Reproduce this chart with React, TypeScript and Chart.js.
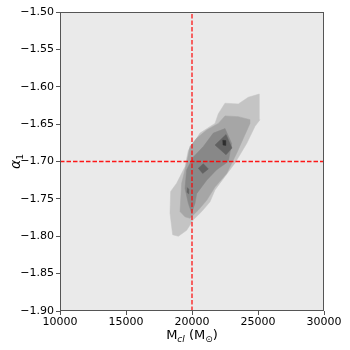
import React, { useEffect, useRef } from "react";
import { Chart, registerables } from "chart.js";

Chart.register(...registerables);

// Axis ranges / ticks
const xRange = [10000, 30000];
const yRange = [-1.9, -1.5];
const xStep = 5000;
const yStep = 0.05;

// Reference lines
const refX = 20000;
const refY = -1.7;

// Contour levels (outer -> inner), polygons in data coordinates [M_cl, alpha_1]
const level1: [number, number][] = [
  [25098, -1.6097], [24265, -1.614], [23508, -1.623], [22500, -1.622], [21996, -1.636],
  [21742, -1.649], [20606, -1.662], [20101, -1.676], [19722, -1.685], [19470, -1.707],
  [18838, -1.729], [18384, -1.74], [18333, -1.769], [18535, -1.798], [18965, -1.8],
  [19596, -1.792], [20101, -1.778], [20732, -1.767], [21364, -1.754], [21742, -1.738],
  [22500, -1.72], [23258, -1.702], [24141, -1.676], [24773, -1.653], [25151, -1.644],
];
const level2: [number, number][] = [
  [24394, -1.644], [23508, -1.64], [22500, -1.639], [21996, -1.649], [21111, -1.658],
  [20353, -1.669], [19848, -1.68], [19596, -1.702], [19217, -1.729], [19091, -1.767],
  [19470, -1.774], [19848, -1.776], [20480, -1.765], [21111, -1.752], [21742, -1.734],
  [22626, -1.716], [23384, -1.689], [24394, -1.649],
];
const level3: [number, number][] = [
  [22500, -1.656], [21616, -1.662], [20859, -1.68], [20101, -1.694], [19596, -1.711],
  [19470, -1.736], [19722, -1.756], [19975, -1.769], [20227, -1.756], [20353, -1.743],
  [21111, -1.725], [21869, -1.711], [22753, -1.7], [23005, -1.676],
];
const level4a: [number, number][] = [
  [22576, -1.664], [21742, -1.678], [22576, -1.691], [23030, -1.682],
];
const level4b: [number, number][] = [
  [20480, -1.709], [20859, -1.703], [21237, -1.71], [20808, -1.716],
];
const level4c: [number, number][] = [
  [19650, -1.735], [19620, -1.741], [19730, -1.743], [19760, -1.737],
];
const level5: [number, number][] = [
  [22330, -1.6715], [22350, -1.678], [22560, -1.6785], [22560, -1.672],
];

const levelColors = ["#c4c4c4", "#a6a6a6", "#888888", "#626262", "#2e2e2e"];

const toPts = (poly: [number, number][]) => {
  const pts = poly.map(([x, y]) => ({ x, y }));
  pts.push({ ...pts[0] });
  return pts;
};

export default function App() {
  const ref = useRef<HTMLCanvasElement | null>(null);

  useEffect(() => {
    if (!ref.current) return;

    const polyDs = (poly: [number, number][], color: string, order: number) => ({
      data: toPts(poly),
      showLine: true,
      fill: "shape",
      backgroundColor: color,
      borderColor: color,
      borderWidth: 0.5,
      pointRadius: 0,
      tension: 0,
      order,
    });

    const bgPlugin = {
      id: "bg",
      beforeDraw(chart: any) {
        const { ctx, chartArea: a } = chart;
        ctx.save();
        ctx.fillStyle = "#eaeaea";
        ctx.fillRect(a.left, a.top, a.right - a.left, a.bottom - a.top);
        ctx.restore();
      },
      afterDraw(chart: any) {
        const { ctx, chartArea: a } = chart;
        ctx.save();
        ctx.strokeStyle = "#555555";
        ctx.lineWidth = 1;
        ctx.strokeRect(Math.round(a.left) + 0.5, Math.round(a.top) + 0.5,
          Math.round(a.right - a.left) - 1, Math.round(a.bottom - a.top) - 1);

        // x title: M_cl (M_sun)
        const big = "13px 'DejaVu Sans'";
        const small = "9px 'DejaVu Sans'";
        const smallIt = "italic 9px 'DejaVu Sans'";
        const parts = [
          { t: "M", f: big, dy: 0 },
          { t: "cl", f: smallIt, dy: 3 },
          { t: " (M", f: big, dy: 0 },
          { t: "⊙", f: small, dy: 3 },
          { t: ")", f: big, dy: 0 },
        ];
        let total = 0;
        for (const p of parts) { ctx.font = p.f; total += ctx.measureText(p.t).width; }
        let x = (a.left + a.right) / 2 - total / 2;
        const by = 339;
        ctx.fillStyle = "#000";
        ctx.textBaseline = "alphabetic";
        ctx.textAlign = "left";
        for (const p of parts) {
          ctx.font = p.f;
          ctx.fillText(p.t, x, by + p.dy);
          x += ctx.measureText(p.t).width;
        }

        // y title: alpha_1
        ctx.translate(20, (a.top + a.bottom) / 2);
        ctx.rotate(-Math.PI / 2);
        ctx.font = "italic 14px 'DejaVu Sans'";
        const wA = ctx.measureText("α").width;
        ctx.font = "9px 'DejaVu Sans'";
        const w1 = ctx.measureText("1").width;
        const sx = -(wA + w1) / 2;
        ctx.font = "italic 14px 'DejaVu Sans'";
        ctx.fillText("α", sx, 0);
        ctx.font = "9px 'DejaVu Sans'";
        ctx.fillText("1", sx + wA, 3);
        ctx.restore();
      },
    };

    const chart = new Chart(ref.current, {
      type: "scatter",
      data: {
        datasets: [
          {
            data: [{ x: refX, y: yRange[0] }, { x: refX, y: yRange[1] }],
            showLine: true, borderColor: "rgba(255,0,0,0.9)", borderWidth: 1.3,
            borderDash: [4.5, 2], pointRadius: 0, fill: false, order: 0,
          },
          {
            data: [{ x: xRange[0], y: refY }, { x: xRange[1], y: refY }],
            showLine: true, borderColor: "rgba(255,0,0,0.9)", borderWidth: 1.3,
            borderDash: [4.5, 2], pointRadius: 0, fill: false, order: 0,
          },
          polyDs(level5, levelColors[4], 1),
          polyDs(level4a, levelColors[3], 2),
          polyDs(level4b, levelColors[3], 2),
          polyDs(level4c, levelColors[3], 2),
          polyDs(level3, levelColors[2], 3),
          polyDs(level2, levelColors[1], 4),
          polyDs(level1, levelColors[0], 5),
        ] as any,
      },
      options: {
        animation: false,
        responsive: false,
        layout: { padding: { top: 12, right: 26, left: 0, bottom: 0 } },
        plugins: { legend: { display: false }, tooltip: { enabled: false } },
        scales: {
          x: {
            type: "linear",
            min: xRange[0],
            max: xRange[1],
            afterFit(s: any) { s.height = 39; },
            ticks: {
              stepSize: xStep,
              color: "#000",
              font: { family: "'DejaVu Sans'", size: 11 },
              padding: 1,
              maxRotation: 0,
              callback: (v: any) => String(v),
            },
            grid: { drawOnChartArea: false, drawTicks: true, tickLength: 4, color: "#555" },
            border: { display: false },
          },
          y: {
            type: "linear",
            min: yRange[0],
            max: yRange[1],
            afterFit(s: any) { s.width = 60; },
            ticks: {
              stepSize: yStep,
              color: "#000",
              font: { family: "'DejaVu Sans'", size: 11 },
              padding: 2,
              callback: (v: any) => Number(v).toFixed(2).replace("-", "\u2212"),
            },
            grid: { drawOnChartArea: false, drawTicks: true, tickLength: 4, color: "#555" },
            border: { display: false },
          },
        },
      } as any,
      plugins: [bgPlugin],
    });
    return () => chart.destroy();
  }, []);

  return (
    <div style={{ position: "fixed", left: 0, top: 0, width: 350, height: 350, background: "#fff" }}>
      <canvas ref={ref} width={350} height={350} style={{ display: "block" }} />
    </div>
  );
}
